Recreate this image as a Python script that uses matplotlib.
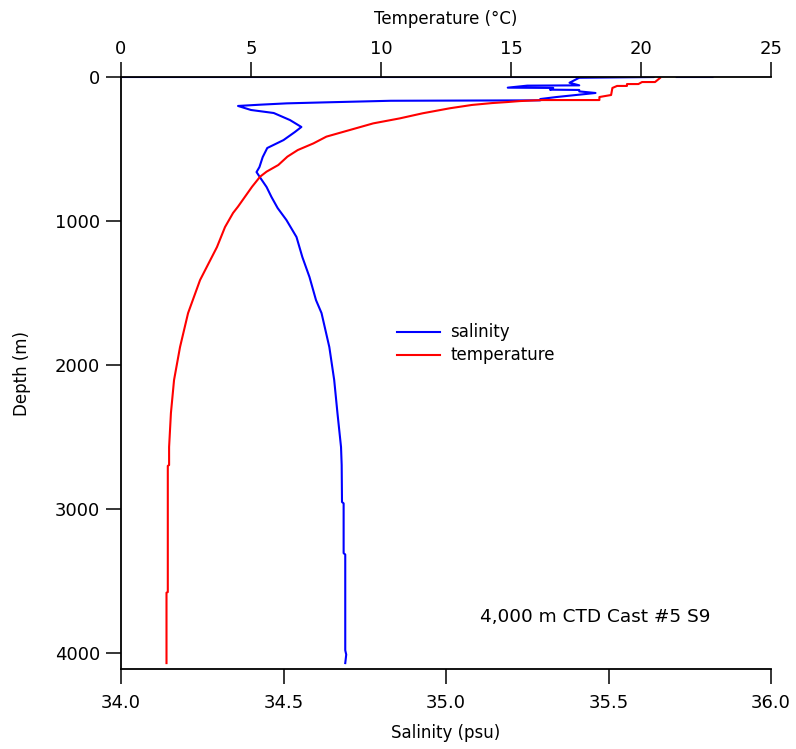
import numpy as np
import matplotlib
matplotlib.use("Agg")
import matplotlib.pyplot as plt

# ---- data ----
sal_depth = [0, 0, np.nan, 0, 0, 5, 40, 58, 60, 74, 76, 88, 90, 100, 111, 139, 153, 162,
             165, 176, 183, 192, 201, 229, 250, 299, 347, 382, 438, 493, 556, 625, 660,
             701, 764, 833, 910, 993, 1111, 1250, 1389, 1549, 1639, 1875, 2104, 2333,
             2569, 2694, 2951, 2960, 3306, 3315, 3980, 4010, 4069]
salinity = [35.82, 35.71, np.nan, 33.9, 35.64, 35.41, 35.38, 35.41, 35.25, 35.19, 35.33,
            35.32, 35.41, 35.41, 35.46, 35.34, 35.29, 35.29, 34.83, 34.63, 34.51, 34.43,
            34.36, 34.40, 34.47, 34.52, 34.555, 34.535, 34.50, 34.45, 34.436, 34.426,
            34.417, 34.429, 34.448, 34.463, 34.482, 34.509, 34.54, 34.558, 34.58, 34.60,
            34.617, 34.641, 34.656, 34.666, 34.677, 34.679, 34.680, 34.685, 34.685,
            34.69, 34.69, 34.693, 34.69]

temp_depth = [7, 35, 35, 49, 49, 62, 62, 76, 125, 139, 160, 160, 167, 174, 181, 194,
              217, 252, 287, 322, 368, 414, 461, 507, 553, 611, 657, 692, 762, 831, 900,
              944, 1042, 1181, 1410, 1639, 1875, 2104, 2333, 2569, 2694, 2700, 3576,
              3580, 4069]
temperature = [20.73, 20.54, 20.04, 19.9, 19.46, 19.46, 19.08, 18.9, 18.85, 18.4, 18.4,
               16.2, 15.35, 14.85, 14.27, 13.5, 12.65, 11.6, 10.73, 9.7, 8.8, 7.9, 7.4,
               6.8, 6.4, 6.05, 5.6, 5.35, 5.04, 4.77, 4.5, 4.31, 4.0, 3.69, 3.04, 2.58,
               2.27, 2.04, 1.92, 1.85, 1.85, 1.80, 1.80, 1.75, 1.75]

sal_ticks = [34.0, 34.5, 35.0, 35.5, 36.0]
sal_ticklabels = ["34.0", "34.5", "35.0", "35.5", "36.0"]
temp_ticks = [0, 5, 10, 15, 20, 25]
depth_ticks = [0, 1000, 2000, 3000, 4000]

W, H = 796, 749
fig = plt.figure(figsize=(W / 100, H / 100), dpi=100)
ax = fig.add_axes([121 / W, 1 - 669 / H, 650 / W, (669 - 77) / H])
ax2 = ax.twiny()

ax.plot(salinity, sal_depth, color="#0000ff", lw=1.5, label="salinity")
ax2.plot(temperature, temp_depth, color="#ff0000", lw=1.5, label="temperature")

ax.set_xlim(34.0, 36.0)
ax.set_ylim(4110, 0)
ax2.set_xlim(0, 25)

ax.set_xticks(sal_ticks)
ax.set_xticklabels(sal_ticklabels)
ax.set_yticks(depth_ticks)
ax2.set_xticks(temp_ticks)

for a in (ax, ax2):
    a.spines["right"].set_visible(False)
    for s in a.spines.values():
        s.set_linewidth(1.3)
ax.spines["top"].set_visible(False)
ax2.spines["bottom"].set_visible(False)
ax2.spines["left"].set_visible(False)

ax.tick_params(axis="x", direction="out", length=11, width=1.1, labelsize=13, pad=7)
ax.tick_params(axis="y", direction="out", length=11, width=1.1, labelsize=13, pad=4)
ax2.tick_params(axis="x", direction="out", length=11, width=1.1, labelsize=13, pad=3)

ax.set_xlabel("Salinity (psu)", fontsize=12, labelpad=9)
ax.set_ylabel("Depth (m)", fontsize=12, labelpad=17)
ax2.set_xlabel("Temperature (\u00b0C)", fontsize=12, labelpad=11)

ax.text(35.105, 3750, "4,000 m CTD Cast #5 S9", fontsize=13.3, va="center", ha="left")

h1, l1 = ax.get_legend_handles_labels()
h2, l2 = ax2.get_legend_handles_labels()
fig.legend(h1 + h2, l1 + l2, loc="center left", bbox_to_anchor=(397 / W, 1 - 344 / H),
           frameon=False, fontsize=12, handlelength=2.6, handletextpad=0.6,
           labelspacing=0.3, borderpad=0, borderaxespad=0)

fig.savefig("out.png", dpi=100)
